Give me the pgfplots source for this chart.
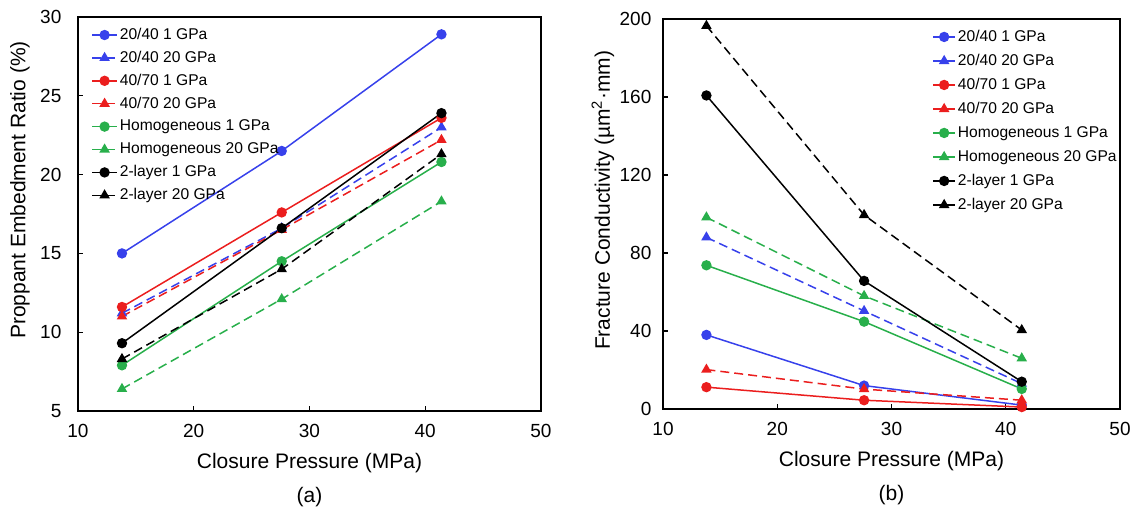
\documentclass[border=0pt]{standalone}
\usepackage{fontspec}
\setmainfont{Liberation Sans}
\usepackage{pgfplots}
\pgfplotsset{compat=1.18}
\definecolor{cblue}{RGB}{55,65,235}
\definecolor{cred}{RGB}{235,30,30}
\definecolor{cgreen}{RGB}{40,175,75}
\tikzset{mydash/.style={dash pattern=on 4.5pt off 2.5pt}}
\pgfplotsset{
  common/.style={
    scale only axis, anchor=south west, clip=false,
    axis line style={line width=0.8pt},
    tick style={line width=0.6pt, black},
    tick align=inside, major tick length=2.5pt,
    xtick pos=lower, ytick pos=left,
    xmin=10, xmax=50, xtick={10,20,30,40,50},
    ticklabel style={font=\fontsize{9.5}{11}\selectfont},
    label style={font=\fontsize{10.5}{12}\selectfont},
    /pgf/number format/assume math mode=true,
    xticklabel style={yshift=-3pt},
    xlabel style={at={(axis description cs:0.5,0)}, anchor=center, yshift=-26pt},
    xlabel={Closure Pressure (MPa)},
    legend cell align=left,
    legend style={draw=none, fill=none, font=\fontsize{7.8}{9}\selectfont, anchor=north west,
      nodes={inner sep=0pt, text height=6pt, text depth=1.7pt}, /tikz/column sep=1pt},
  },
  every axis plot/.append style={line width=0.75pt},
  s1/.style={cblue, solid, mark=*, mark size=2.2pt},
  s2/.style={cblue, mydash, mark=triangle*, mark size=2.3pt, mark options={solid}},
  s3/.style={cred, solid, mark=*, mark size=2.2pt},
  s4/.style={cred, mydash, mark=triangle*, mark size=2.3pt, mark options={solid}},
  s5/.style={cgreen, solid, mark=*, mark size=2.2pt},
  s6/.style={cgreen, mydash, mark=triangle*, mark size=2.3pt, mark options={solid}},
  s7/.style={black, solid, mark=*, mark size=2.2pt},
  s8/.style={black, mydash, mark=triangle*, mark size=2.3pt, mark options={solid}},
}
\begin{document}
\begin{tikzpicture}
\useasboundingbox (0pt,0pt) rectangle (566.5pt,254.5pt);
\begin{axis}[common,
  at={(39pt,49pt)}, width=231.5pt, height=197pt,
  ymin=5, ymax=30, ytick={5,10,15,20,25,30},
  yticklabel style={xshift=-4.8pt},
  ylabel={Proppant Embedment Ratio (\%)},
  ylabel style={at={(axis description cs:-0.1253,0.561)}, anchor=center},
  legend style={at={(axis description cs:0.015,0.985)}, /tikz/row sep=3.75pt},
  legend image code/.code={\draw[mydash/.style={dash pattern=on 3pt off 2.6pt},mark repeat=2,mark phase=2,#1] plot coordinates {(0pt,0pt) (6.25pt,0pt) (12.5pt,0pt)};},
]
\addplot[s1] coordinates {(13.8,15.0) (27.6,21.5) (41.4,28.9)};
\addlegendentry{20/40 1 GPa}
\addplot[s2] coordinates {(13.8,11.2) (27.6,16.6) (41.4,23.0)};
\addlegendentry{20/40 20 GPa}
\addplot[s3] coordinates {(13.8,11.6) (27.6,17.6) (41.4,23.6)};
\addlegendentry{40/70 1 GPa}
\addplot[s4] coordinates {(13.8,11.0) (27.6,16.5) (41.4,22.2)};
\addlegendentry{40/70 20 GPa}
\addplot[s5] coordinates {(13.8,7.9) (27.6,14.5) (41.4,20.8)};
\addlegendentry{Homogeneous 1 GPa}
\addplot[s6] coordinates {(13.8,6.4) (27.6,12.1) (41.4,18.3)};
\addlegendentry{Homogeneous 20 GPa}
\addplot[s7] coordinates {(13.8,9.3) (27.6,16.6) (41.4,23.9)};
\addlegendentry{2-layer 1 GPa}
\addplot[s8] coordinates {(13.8,8.3) (27.6,14.0) (41.4,21.3)};
\addlegendentry{2-layer 20 GPa}
\node[font=\fontsize{10.5}{12}\selectfont, yshift=-43pt] at (axis description cs:0.5,0) {(a)};
\end{axis}
\begin{axis}[common,
  at={(331.5pt,50pt)}, width=228.5pt, height=195pt,
  ymin=0, ymax=200, ytick={0,40,80,120,160,200},
  yticklabel style={xshift=-2.3pt},
  ylabel={Fracture Conductivity (µm\textsuperscript{2}·mm)},
  ylabel style={at={(axis description cs:-0.1313,0.535)}, anchor=center},
  legend style={at={(axis description cs:0.5755,0.985)}, /tikz/row sep=4.3pt},
  legend image code/.code={\draw[mydash/.style={dash pattern=on 2.6pt off 2.4pt},mark repeat=2,mark phase=2,#1] plot coordinates {(0pt,0pt) (5.5pt,0pt) (11pt,0pt)};},
]
\addplot[s1] coordinates {(13.8,38) (27.6,12) (41.4,2)};
\addlegendentry{20/40 1 GPa}
\addplot[s2] coordinates {(13.8,88) (27.6,50.3) (41.4,13)};
\addlegendentry{20/40 20 GPa}
\addplot[s3] coordinates {(13.8,11.2) (27.6,4.5) (41.4,1)};
\addlegendentry{40/70 1 GPa}
\addplot[s4] coordinates {(13.8,20.2) (27.6,10.2) (41.4,4.5)};
\addlegendentry{40/70 20 GPa}
\addplot[s5] coordinates {(13.8,73.7) (27.6,44.8) (41.4,10.3)};
\addlegendentry{Homogeneous 1 GPa}
\addplot[s6] coordinates {(13.8,98.3) (27.6,58) (41.4,26)};
\addlegendentry{Homogeneous 20 GPa}
\addplot[s7] coordinates {(13.8,160.8) (27.6,65.7) (41.4,14)};
\addlegendentry{2-layer 1 GPa}
\addplot[s8] coordinates {(13.8,196.5) (27.6,99.5) (41.4,40.5)};
\addlegendentry{2-layer 20 GPa}
\node[font=\fontsize{10.5}{12}\selectfont, yshift=-43pt] at (axis description cs:0.5,0) {(b)};
\end{axis}
\end{tikzpicture}
\end{document}
